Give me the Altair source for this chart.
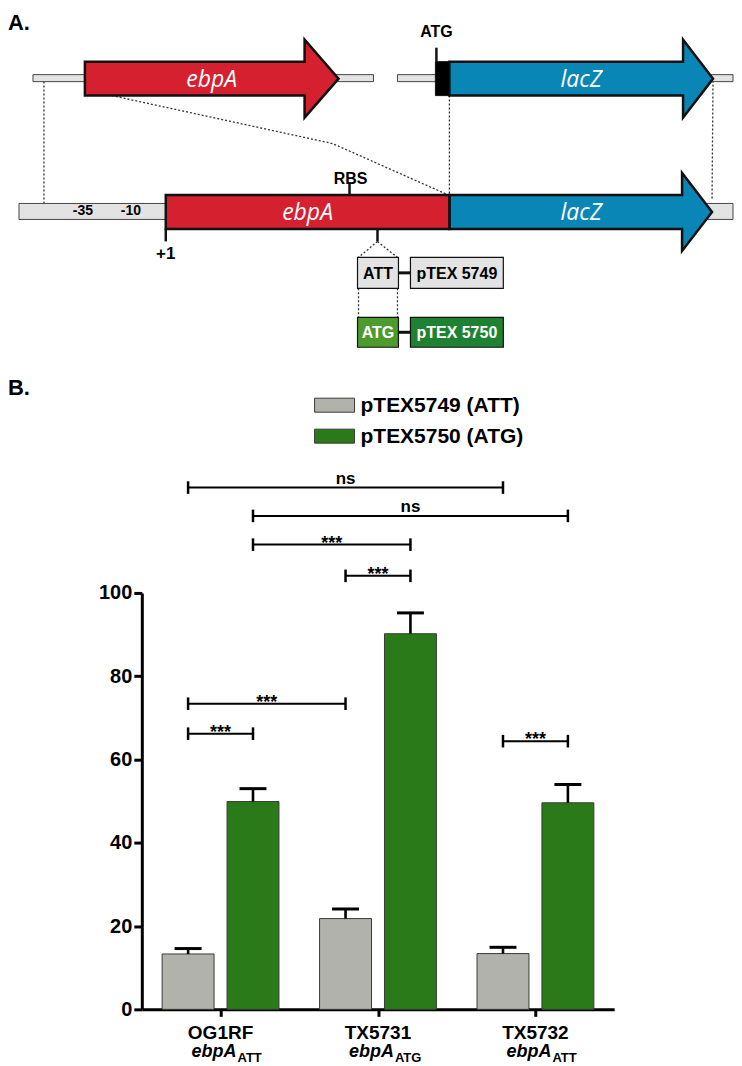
import altair as alt
import pandas as pd

# ================= Panel B data (beta-galactosidase assay) =================
strains = ["OG1RF", "TX5731", "TX5732"]
strain_alleles = ["ATT", "ATG", "ATT"]
series = ["pTEX5749 (ATT)", "pTEX5750 (ATG)"]
series_colors = ["#b1b2ab", "#2b7a19"]
att_mean = [13.3, 21.8, 13.4]
att_sem = [1.3, 2.3, 1.5]
atg_mean = [49.9, 90.2, 49.6]
atg_sem = [3.1, 5.0, 4.4]
y_ticks = [0, 20, 40, 60, 80, 100]
y_title = ["β-Galactosidase Activity", "(Miller Units)"]

# significance brackets: from (strain, series index) to (strain, series index)
br_a_strain = ["OG1RF", "OG1RF", "OG1RF", "TX5731", "OG1RF", "OG1RF", "TX5732"]
br_a_series = [0, 1, 1, 0, 0, 0, 0]
br_b_strain = ["TX5732", "TX5732", "TX5731", "TX5731", "TX5731", "OG1RF", "TX5732"]
br_b_series = [0, 1, 1, 1, 0, 1, 1]
br_level = [125.3, 118.5, 111.6, 104.1, 73.4, 66.2, 64.4]
br_label = ["ns", "ns", "***", "***", "***", "***", "***"]

# ================= Panel A data (construct diagram, diagram units) =================
# DNA backbone strips
bb_x0 = [33, 398, 19]
bb_x1 = [374, 734, 734]
bb_y0 = [74, 74, 203]
bb_y1 = [81, 81, 219]
# gene arrows: start, head base, tip, centre line
ar_gene = ["ebpA", "lacZ", "lacZ"]
ar_x0 = [85, 450, 450]
ar_xh = [305, 684, 683]
ar_tip = [339, 714, 713]
ar_yc = [78, 78, 211.5]
ar_label_x = [212, 582, 582]
# boxes
bx_kind = ["ebpA", "start", "ATT", "p5749", "ATG", "p5750"]
bx_x0 = [166, 436, 358, 411, 358, 411]
bx_x1 = [450, 450, 399, 504, 399, 504]
bx_y0 = [194.5, 61, 257, 257, 317, 317]
bx_y1 = [228.5, 95, 288, 288, 347, 347]
bx_text = ["", "", "ATT", "pTEX 5749", "ATG", "pTEX 5750"]
# solid marker ticks
tk_x = [437, 350, 166, 378]
tk_y0 = [47, 182, 228, 228]
tk_y1 = [61, 195, 241, 241]
# connectors between boxes
cn_x0 = [399, 399]
cn_x1 = [411, 411]
cn_y = [272.5, 332]
# dotted guide lines (polylines)
dl_id = [1, 1, 2, 2, 2, 3, 3, 4, 4, 5, 5, 6, 6, 7, 7, 8, 8]
dl_x = [44, 44, 112, 333, 450, 450, 450, 714, 713, 378, 359, 378, 398, 359, 359, 398, 398]
dl_y = [81, 203, 95, 143, 195, 95, 195, 80, 200, 241, 257, 241, 257, 288, 317, 288, 317]
# plain labels
lb_text = ["ATG", "RBS", "-35", "-10", "+1"]
lb_x = [437, 351, 83, 131, 166]
lb_y = [31, 179, 211, 211, 254]

FONT = "Liberation Sans"
RED = "#d52030"
BLUE = "#0986b6"
STRIP = "#e3e3e3"
OUT = "#111111"
kind_fill = {"ebpA": RED, "lacZ": BLUE, "start": "#000000", "ATT": STRIP,
             "p5749": STRIP, "ATG": "#4e9b2d", "p5750": "#1f8232"}
kind_text = {"ATT": "black", "p5749": "black", "ATG": "white", "p5750": "white"}

A_W, A_H = 726, 360
xa = alt.Scale(domain=[8, 8 + A_W], nice=False, zero=False)
ya = alt.Scale(domain=[8, 8 + A_H], nice=False, zero=False, reverse=True)

def AX(f):
    return alt.X(f, type="quantitative", scale=xa, axis=None)

def AY(f):
    return alt.Y(f, type="quantitative", scale=ya, axis=None)

strips = pd.DataFrame({"x": bb_x0, "x2": bb_x1, "y": bb_y0, "y2": bb_y1})
strip_layer = alt.Chart(strips).mark_rect(fill=STRIP, stroke="#444", strokeWidth=1).encode(
    x=AX("x"), x2="x2", y=AY("y"), y2="y2")

rows = []
BH, HH = 17, 39
for k in range(len(ar_gene)):
    yc = ar_yc[k]
    pts = [(ar_x0[k], yc - BH, yc + BH), (ar_xh[k], yc - BH, yc + BH),
           (ar_xh[k] + 0.01, yc - HH, yc + HH), (ar_tip[k], yc, yc)]
    for i, (x, y, y2) in enumerate(pts):
        rows.append({"id": k, "i": i, "x": x, "y": y, "y2": y2, "fill": kind_fill[ar_gene[k]]})
arrows = pd.DataFrame(rows)
arrow_layer = alt.Chart(arrows).mark_area(stroke=OUT, strokeWidth=2.5, opacity=1,
                                          strokeJoin="miter").encode(
    x=AX("x"), y=AY("y"), y2="y2", detail="id:N",
    color=alt.Color("fill:N", scale=None))

boxes = pd.DataFrame({"x": bx_x0, "x2": bx_x1, "y": bx_y0, "y2": bx_y1,
                      "fill": [kind_fill[k] for k in bx_kind],
                      "sw": [2.5, 1, 1.2, 1.2, 1.2, 1.2]})
box_layer = alt.Chart(boxes).mark_rect(stroke=OUT).encode(
    x=AX("x"), x2="x2", y=AY("y"), y2="y2",
    color=alt.Color("fill:N", scale=None),
    strokeWidth=alt.StrokeWidth("sw:Q", scale=None))

ticks = pd.DataFrame({"x": tk_x, "y": tk_y0, "y2": tk_y1})
tick_layer = alt.Chart(ticks).mark_rule(color=OUT, strokeWidth=2.5).encode(
    x=AX("x"), y=AY("y"), y2="y2")

conns = pd.DataFrame({"x": cn_x0, "x2": cn_x1, "y": cn_y})
conn_layer = alt.Chart(conns).mark_rule(color=OUT, strokeWidth=3).encode(
    x=AX("x"), x2="x2", y=AY("y"))

dots = pd.DataFrame({"id": dl_id, "x": dl_x, "y": dl_y})
dots["i"] = range(len(dots))
dot_layer = alt.Chart(dots).mark_line(color="#333", strokeWidth=1.3, strokeDash=[2, 2]).encode(
    x=AX("x"), y=AY("y"), detail="id:N", order="i:Q")

genes = pd.DataFrame({"x": ar_label_x + [308], "y": ar_yc + [211.5],
                      "t": ar_gene + ["ebpA"]})
gene_text = alt.Chart(genes).mark_text(font="Open Sans", fontStyle="italic", fontSize=23,
                                       color="white", baseline="middle", dy=1).encode(
    x=AX("x"), y=AY("y"), text="t:N")

btxt = pd.DataFrame({"x": [(a + b) / 2 for a, b in zip(bx_x0, bx_x1)],
                     "y": [(a + b) / 2 for a, b in zip(bx_y0, bx_y1)],
                     "t": bx_text, "c": [kind_text.get(k, "white") for k in bx_kind]})
btxt = btxt[btxt["t"] != ""]
box_text = alt.Chart(btxt).mark_text(font=FONT, fontWeight="bold", fontSize=16,
                                     baseline="middle", dy=1).encode(
    x=AX("x"), y=AY("y"), text="t:N", color=alt.Color("c:N", scale=None))

lbl = pd.DataFrame({"x": lb_x, "y": lb_y, "t": lb_text,
                    "s": [16, 16, 14, 14, 17]})
label_text = alt.Chart(lbl).mark_text(font=FONT, fontWeight="bold", color="black",
                                      baseline="middle").encode(
    x=AX("x"), y=AY("y"), text="t:N", size=alt.Size("s:Q", scale=None))

panel_a_lbl = alt.Chart(pd.DataFrame({"x": [8], "y": [29], "t": ["A."]})).mark_text(
    font=FONT, fontWeight="bold", fontSize=22, align="left", baseline="alphabetic",
    color="black").encode(x=AX("x"), y=AY("y"), text="t:N")

panel_a = alt.layer(dot_layer, strip_layer, arrow_layer, box_layer, tick_layer, conn_layer,
                    gene_text, box_text, label_text, panel_a_lbl).properties(
    width=A_W, height=A_H)

# ================= Panel B chart =================
B_W, B_H = 726, 642
X0, X1 = 134, 607
Y0PX, Y100PX = 642, 225
step = (X1 - X0) / len(strains)
pair_off = 32.5 / step
bar_half = 26 / step
cap_half = 13.5 / step
unit_px = (Y0PX - Y100PX) / 100.0

def pos(strain, s):
    return strains.index(strain) + 0.5 + (2 * s - 1) * pair_off

bars = []
for g, st in enumerate(strains):
    for s, (m, e) in enumerate([(att_mean[g], att_sem[g]), (atg_mean[g], atg_sem[g])]):
        xc = pos(st, s)
        bars.append({"strain": st, "series": series[s], "xc": xc,
                     "xl": xc - bar_half, "xr": xc + bar_half,
                     "cl": xc - cap_half, "cr": xc + cap_half,
                     "mean": m, "upper": m + e})
bars = pd.DataFrame(bars)

xs = alt.Scale(domain=[0, len(strains)], range=[X0, X1], nice=False, zero=False)
ys = alt.Scale(domain=[0, 100], range=[Y0PX, Y100PX], nice=False, zero=False)

x_axis = alt.Axis(values=[g + 0.5 for g in range(len(strains))], labels=False, title=None,
                  grid=False, domainWidth=3, domainColor="black", tickWidth=3,
                  tickColor="black", tickSize=7)
y_axis = alt.Axis(values=y_ticks, offset=-X0, title=y_title, grid=False,
                  domainWidth=3, domainColor="black", tickWidth=3, tickColor="black",
                  tickSize=8, labelFont=FONT, labelFontSize=20, labelFontWeight="bold",
                  labelColor="black", labelPadding=2, titleFont=FONT, titleFontSize=18,
                  titleFontWeight="bold", titleColor="black", titlePadding=13,
                  titleLineHeight=21)

bar_layer = alt.Chart(bars).mark_rect(stroke="#3a3a3a", strokeWidth=1).encode(
    x=alt.X("xl:Q", scale=xs, axis=x_axis), x2="xr",
    y=alt.Y("mean:Q", scale=ys, axis=y_axis), y2=alt.datum(0),
    color=alt.Color("series:N", scale=alt.Scale(domain=series, range=series_colors),
                    legend=None))

err_layer = alt.Chart(bars).mark_rule(color="black", strokeWidth=2.6).encode(
    x=alt.X("xc:Q", scale=xs, title=None), y=alt.Y("mean:Q", scale=ys, title=None),
    y2="upper")
cap_layer = alt.Chart(bars).mark_rule(color="black", strokeWidth=3).encode(
    x=alt.X("cl:Q", scale=xs, title=None), x2="cr",
    y=alt.Y("upper:Q", scale=ys, title=None))

brk = pd.DataFrame({"x1": [pos(a, s) for a, s in zip(br_a_strain, br_a_series)],
                    "x2": [pos(b, s) for b, s in zip(br_b_strain, br_b_series)],
                    "level": br_level, "label": br_label})
brk["xm"] = (brk["x1"] + brk["x2"]) / 2
tick_units = 6.3 / unit_px
ends = pd.DataFrame({"xe": list(brk["x1"]) + list(brk["x2"]),
                     "level": list(brk["level"]) * 2})
ends["lo"] = ends["level"] - tick_units
ends["hi"] = ends["level"] + tick_units

brk_line = alt.Chart(brk).mark_rule(color="black", strokeWidth=2).encode(
    x=alt.X("x1:Q", scale=xs, title=None), x2="x2",
    y=alt.Y("level:Q", scale=ys, title=None))
brk_ends = alt.Chart(ends).mark_rule(color="black", strokeWidth=2.5).encode(
    x=alt.X("xe:Q", scale=xs, title=None),
    y=alt.Y("lo:Q", scale=ys, title=None), y2="hi")
brk_ns = alt.Chart(brk).transform_filter(alt.datum.label == "ns").mark_text(
    font=FONT, fontWeight="bold", fontSize=17, color="black", baseline="alphabetic",
    dy=-4).encode(x=alt.X("xm:Q", scale=xs, title=None),
                  y=alt.Y("level:Q", scale=ys, title=None), text="label:N")
brk_st = alt.Chart(brk).transform_filter(alt.datum.label == "***").mark_text(
    font=FONT, fontWeight="bold", fontSize=18, color="black", baseline="alphabetic",
    dy=4).encode(x=alt.X("xm:Q", scale=xs, title=None),
                 y=alt.Y("level:Q", scale=ys, title=None), text="label:N")

cats = pd.DataFrame({"strain": strains, "allele": strain_alleles,
                     "xc": [g + 0.5 for g in range(len(strains))], "ital": "ebpA"})
cat_name = alt.Chart(cats).mark_text(font=FONT, fontWeight="bold", fontSize=19,
                                     color="black", baseline="alphabetic", dy=30).encode(
    x=alt.X("xc:Q", scale=xs, title=None), y=alt.datum(0), text="strain:N")
cat_gene = alt.Chart(cats).mark_text(font=FONT, fontWeight="bold", fontStyle="italic",
                                     fontSize=18, color="black", baseline="alphabetic",
                                     align="right", dx=16, dy=48).encode(
    x=alt.X("xc:Q", scale=xs, title=None), y=alt.datum(0), text="ital:N")
cat_sub = alt.Chart(cats).mark_text(font=FONT, fontWeight="bold", fontSize=13,
                                    color="black", baseline="alphabetic",
                                    align="left", dx=17, dy=53).encode(
    x=alt.X("xc:Q", scale=xs, title=None), y=alt.datum(0), text="allele:N")

leg = pd.DataFrame({"series": series, "color": series_colors, "i": [0, 1]})
leg["ly0"] = 30 + 31 * leg["i"]
leg["ly1"] = leg["ly0"] + 14
leg["lyc"] = leg["ly0"] + 7
leg_rect = alt.Chart(leg).mark_rect(stroke="#3a3a3a", strokeWidth=1).encode(
    x=alt.value(307), x2=alt.value(347),
    y=alt.Y("ly0:Q", scale=None, title=None), y2="ly1",
    color=alt.Color("color:N", scale=None))
leg_text = alt.Chart(leg).mark_text(font=FONT, fontWeight="bold", fontSize=21,
                                    color="black", align="left", baseline="middle",
                                    dy=1).encode(
    x=alt.value(353), y=alt.Y("lyc:Q", scale=None, title=None), text="series:N")

panel_b_lbl = alt.Chart(pd.DataFrame({"t": ["B."]})).mark_text(
    font=FONT, fontWeight="bold", fontSize=22, align="left", baseline="alphabetic",
    color="black").encode(x=alt.value(0), y=alt.value(27), text="t:N")

panel_b = alt.layer(bar_layer, err_layer, cap_layer, brk_line, brk_ends, brk_ns, brk_st,
                    cat_name, cat_gene, cat_sub, leg_rect, leg_text, panel_b_lbl).properties(
    width=B_W, height=B_H)

chart = alt.vconcat(panel_a, panel_b, spacing=0).properties(padding=0).configure_view(
    stroke=None)

chart.save("out.html", embed_options={"renderer": "svg", "actions": False})
